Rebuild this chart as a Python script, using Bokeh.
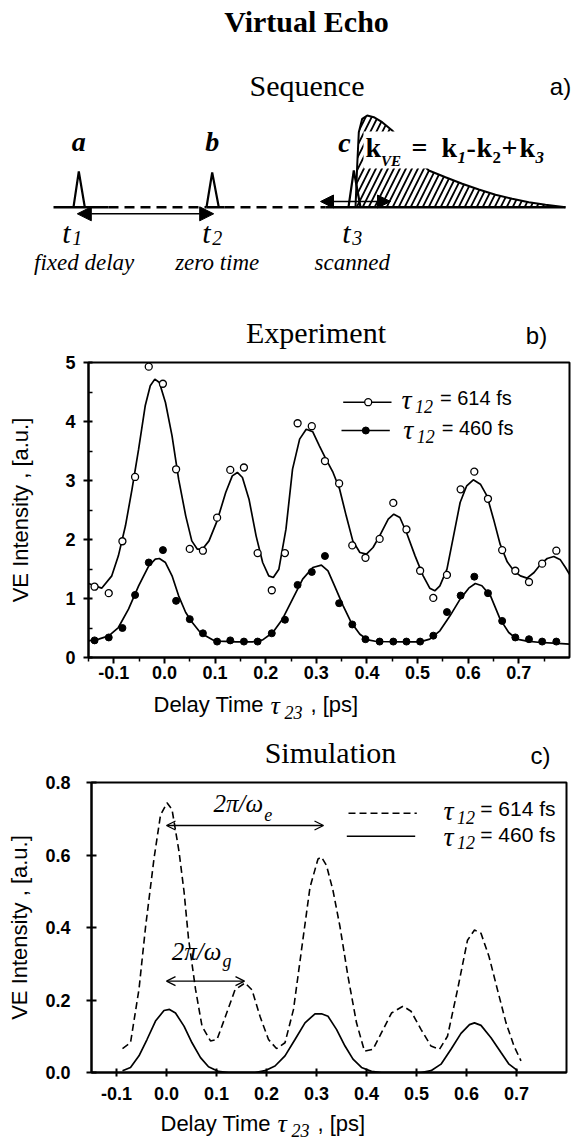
import math
from bokeh.plotting import figure
from bokeh.layouts import column
from bokeh.models import Range1d, FixedTicker, PrintfTickFormatter, Label, Arrow, NormalHead, OpenHead
from bokeh.embed import file_html
from bokeh.resources import INLINE

SERIF = "Liberation Serif"
SANS = "Liberation Sans"
W = 578

# ---------------- data: (b) Experiment ----------------
exp_delay = [-0.138, -0.110, -0.083, -0.058, -0.031, -0.003, 0.023, 0.050, 0.076, 0.104,
             0.130, 0.157, 0.184, 0.212, 0.238, 0.263, 0.291, 0.317, 0.345, 0.371,
             0.397, 0.425, 0.452, 0.478, 0.505, 0.531, 0.558, 0.585, 0.612, 0.639,
             0.667, 0.693, 0.720, 0.746, 0.774]
exp_614 = [1.20, 1.09, 1.97, 3.06, 4.93, 4.64, 3.19, 1.84, 1.81, 2.37,
           3.18, 3.22, 1.77, 1.14, 1.77, 3.97, 3.92, 3.33, 2.95, 1.90,
           1.69, 2.01, 2.62, 2.17, 1.47, 1.01, 1.40, 2.85, 3.15, 2.69,
           1.82, 1.47, 1.28, 1.59, 1.81]
exp_460 = [0.29, 0.34, 0.50, 1.06, 1.61, 1.82, 0.96, 0.65, 0.41, 0.27,
           0.29, 0.27, 0.27, 0.41, 0.64, 1.23, 1.45, 1.72, 0.92, 0.56,
           0.31, 0.27, 0.27, 0.27, 0.27, 0.37, 0.77, 1.05, 1.37, 1.09,
           0.62, 0.34, 0.31, 0.27, 0.27]

fit614_x = [-0.150, -0.124, -0.104, -0.091, -0.077, -0.064, -0.051, -0.038, -0.028, -0.019,
            -0.010, 0.002, 0.015, 0.028, 0.042, 0.054, 0.065, 0.075, 0.088, 0.104,
            0.121, 0.134, 0.144, 0.154, 0.167, 0.181, 0.194, 0.206, 0.215, 0.226,
            0.240, 0.253, 0.267, 0.280, 0.293, 0.306, 0.319, 0.333, 0.346, 0.359,
            0.372, 0.386, 0.399, 0.412, 0.425, 0.442, 0.453, 0.465, 0.478, 0.495,
            0.511, 0.524, 0.534, 0.544, 0.558, 0.571, 0.584, 0.597, 0.610, 0.624,
            0.637, 0.650, 0.663, 0.677, 0.690, 0.703, 0.716, 0.730, 0.743, 0.756,
            0.769, 0.782, 0.792, 0.800]
fit614_y = [1.254, 1.175, 1.384, 1.723, 2.232, 2.853, 3.531, 4.266, 4.605, 4.718,
            4.661, 4.322, 3.757, 3.023, 2.401, 1.977, 1.836, 1.836, 1.977, 2.316,
            2.797, 3.079, 3.136, 3.051, 2.684, 2.062, 1.610, 1.384, 1.356, 1.497,
            2.175, 3.192, 3.701, 3.870, 3.825, 3.588, 3.362, 3.136, 2.853, 2.401,
            1.977, 1.780, 1.751, 1.864, 2.062, 2.345, 2.429, 2.373, 2.119, 1.723,
            1.384, 1.175, 1.130, 1.215, 1.497, 2.062, 2.627, 2.910, 3.011, 2.938,
            2.740, 2.345, 1.921, 1.621, 1.469, 1.384, 1.345, 1.441, 1.582, 1.678,
            1.712, 1.655, 1.525, 1.412]

fit460_x = [-0.150, -0.130, -0.110, -0.091, -0.071, -0.051, -0.031, -0.018, -0.010, 0.002,
            0.015, 0.028, 0.042, 0.055, 0.068, 0.081, 0.095, 0.108, 0.141, 0.174,
            0.194, 0.214, 0.233, 0.253, 0.273, 0.293, 0.310, 0.323, 0.336, 0.353,
            0.369, 0.386, 0.402, 0.419, 0.472, 0.505, 0.524, 0.544, 0.564, 0.584,
            0.601, 0.614, 0.627, 0.644, 0.663, 0.680, 0.696, 0.716, 0.743, 0.769, 0.800]
fit460_y = [0.282, 0.311, 0.367, 0.508, 0.819, 1.215, 1.554, 1.667, 1.678, 1.610,
            1.384, 1.045, 0.763, 0.593, 0.452, 0.367, 0.299, 0.277, 0.266, 0.266,
            0.299, 0.424, 0.650, 0.989, 1.328, 1.525, 1.565, 1.469, 1.215, 0.876,
            0.593, 0.395, 0.299, 0.271, 0.266, 0.266, 0.311, 0.452, 0.706, 0.989,
            1.175, 1.254, 1.215, 1.045, 0.650, 0.424, 0.311, 0.277, 0.254, 0.243, 0.226]

# ---------------- data: (c) Simulation ----------------
sim614_x = [-0.088, -0.072, -0.055, -0.042, -0.025, -0.012, 0.001, 0.011, 0.025, 0.035,
            0.044, 0.058, 0.071, 0.088, 0.101, 0.118, 0.137, 0.157, 0.171, 0.187,
            0.204, 0.220, 0.237, 0.254, 0.270, 0.287, 0.303, 0.310, 0.320, 0.333,
            0.347, 0.363, 0.380, 0.396, 0.413, 0.430, 0.450, 0.473, 0.489, 0.509,
            0.529, 0.546, 0.562, 0.582, 0.602, 0.616, 0.629, 0.645, 0.662, 0.679,
            0.695, 0.709]
sim614_y = [0.066, 0.082, 0.230, 0.400, 0.590, 0.710, 0.744, 0.726, 0.610, 0.500,
            0.370, 0.230, 0.128, 0.087, 0.091, 0.155, 0.228, 0.247, 0.228, 0.155,
            0.091, 0.066, 0.082, 0.174, 0.338, 0.511, 0.589, 0.594, 0.571, 0.502,
            0.402, 0.265, 0.137, 0.059, 0.064, 0.110, 0.164, 0.183, 0.169, 0.119,
            0.073, 0.064, 0.100, 0.228, 0.365, 0.393, 0.384, 0.320, 0.228, 0.137,
            0.073, 0.032]
sim460_x = [-0.088, -0.072, -0.055, -0.039, -0.022, -0.005, 0.006, 0.018, 0.035, 0.051,
            0.068, 0.084, 0.104, 0.124, 0.177, 0.197, 0.217, 0.237, 0.257, 0.277,
            0.297, 0.310, 0.323, 0.340, 0.357, 0.373, 0.390, 0.410, 0.430, 0.509,
            0.529, 0.549, 0.569, 0.589, 0.606, 0.616, 0.629, 0.649, 0.669, 0.685, 0.702]
sim460_y = [0.005, 0.014, 0.046, 0.091, 0.142, 0.171, 0.174, 0.164, 0.128, 0.082,
            0.041, 0.016, 0.003, 0.000, 0.000, 0.005, 0.018, 0.046, 0.091, 0.137,
            0.162, 0.162, 0.155, 0.119, 0.073, 0.037, 0.014, 0.003, 0.000, 0.000,
            0.005, 0.023, 0.064, 0.108, 0.132, 0.137, 0.130, 0.096, 0.055, 0.023, 0.005]

# periods marked in (c)
period_e = [0.0, 0.314]
period_g = [0.0, 0.156]

x_ticks = [-0.1, 0.0, 0.1, 0.2, 0.3, 0.4, 0.5, 0.6, 0.7]
x_minor = [-0.15, -0.05, 0.05, 0.15, 0.25, 0.35, 0.45, 0.55, 0.65, 0.75]
b_y_ticks = [0, 1, 2, 3, 4, 5]
b_y_minor = [0.5, 1.5, 2.5, 3.5, 4.5]
c_y_ticks = [0.0, 0.2, 0.4, 0.6, 0.8]

Y_LABEL = "VE Intensity , [a.u.]"

# ---------------- (a) sequence schematic (picture pixel space) ----------------
seq_base = 206.7
pulse_peak_x = [78.3, 211.7, 353.3]
pulse_peak_y = [171.0, 172.0, 170.0]
pulse_left = [73.0, 206.0, 348.0]
pulse_right = [84.3, 218.3, 360.0]
solid_runs = [(53.0, 108.0), (206.0, 224.0), (325.0, 565.0)]
dashed_runs = [(108.0, 206.0), (224.0, 325.0)]
decay_x = [355.0, 356.7, 358.3, 361.7, 366.7, 373.3, 381.7, 391.7, 405.0, 418.0,
           428.3, 445.0, 461.7, 478.3, 495.0, 511.7, 528.3, 545.0, 565.0]
decay_y = [206.7, 165.0, 131.7, 118.3, 115.0, 116.7, 121.7, 130.0, 146.0, 160.0,
           170.0, 176.7, 183.3, 189.0, 194.3, 198.3, 201.7, 204.3, 206.7]


def ident(v):
    return v


def lab(p, x, y, s, size, font=SERIF, style="normal", align="left",
        fx=ident, fy=ident):
    """Place text whose alphabetic baseline sits at picture pixel (x, y)."""
    k = 0.34 if font == SANS else 0.3375
    ymid = y - k * size
    p.add_layout(Label(x=fx(x), y=fy(ymid), text=s, text_font=font,
                       text_font_size=f"{size}px", text_font_style=style,
                       text_align=align, text_baseline="middle",
                       text_color="black"))


def text_strip(top, bottom):
    """A figure without axes whose data space equals picture pixels."""
    p = figure(width=W, height=int(round(bottom - top)),
               x_range=Range1d(0, W), y_range=Range1d(bottom, top),
               output_backend="svg", toolbar_location=None, frame_align=False,
               title_location=None,
               x_axis_location=None, y_axis_location=None, min_border=0)
    p.grid.visible = False
    p.outline_line_color = None
    return p


# ======================= figure A (schematic + title of b) =======================
pA = text_strip(0, 350)

pA.patch(decay_x + [decay_x[-1], decay_x[0]], decay_y + [seq_base, seq_base],
         fill_color=None, line_color=None, hatch_pattern="/", hatch_scale=12,
         hatch_weight=1.8, hatch_color="black")
pA.line(decay_x, decay_y, line_color="black", line_width=2)

for (a, b) in solid_runs:
    pA.line([a, b], [seq_base, seq_base], line_color="black", line_width=2.5)
for (a, b) in dashed_runs:
    pA.line([a, b], [seq_base, seq_base], line_color="black", line_width=2.5,
            line_dash="10 6")
for xl, xp, yp, xr in zip(pulse_left, pulse_peak_x, pulse_peak_y, pulse_right):
    pA.line([xl, xp, xr], [seq_base, yp, seq_base], line_color="black", line_width=2.2)

pA.quad(left=[363], right=[556], top=[131], bottom=[168], fill_color="white",
        line_color=None)

pA.add_layout(Arrow(start=NormalHead(size=14, fill_color="black", line_color="black"),
                    end=NormalHead(size=14, fill_color="black", line_color="black"),
                    x_start=pulse_peak_x[0] - 1.5, y_start=213.3,
                    x_end=pulse_peak_x[1] + 1.5, y_end=213.3,
                    line_color="black", line_width=1.5))
pA.add_layout(Arrow(start=NormalHead(size=13, fill_color="black", line_color="black"),
                    end=NormalHead(size=13, fill_color="black", line_color="black"),
                    x_start=320, y_start=201, x_end=390, y_end=201,
                    line_color="black", line_width=1.5))

lab(pA, 306, 31, "Virtual Echo", 30, style="bold", align="center")
lab(pA, 306.5, 95, "Sequence", 30, align="center")
lab(pA, 560, 94, "a)", 24, font=SANS, align="center")
lab(pA, 78.3, 150, "a", 28, style="bold italic", align="center")
lab(pA, 211.7, 150, "b", 28, style="bold italic", align="center")
lab(pA, 344, 151.7, "c", 28, style="bold italic", align="center")
# k_VE = k1-k2+k3
lab(pA, 365, 156.7, "k", 28, style="bold")
lab(pA, 380.5, 166, "VE", 15, style="bold italic")
lab(pA, 411, 156.7, "=", 28, style="bold")
lab(pA, 441, 156.7, "k", 28, style="bold")
lab(pA, 457, 163, "1", 17, style="bold italic")
lab(pA, 466, 156.7, "-", 28, style="bold")
lab(pA, 476, 156.7, "k", 28, style="bold")
lab(pA, 492, 163, "2", 17, style="bold")
lab(pA, 501, 156.7, "+", 28, style="bold")
lab(pA, 519, 156.7, "k", 28, style="bold")
lab(pA, 535, 163, "3", 17, style="bold italic")
for tx, sub in zip([61.7, 201.7, 341.7], ["1", "2", "3"]):
    lab(pA, tx, 241.7, "t", 30, style="italic")
    lab(pA, tx + 10, 244, sub, 20, style="italic")
lab(pA, 83.7, 270, "fixed delay", 23, style="italic", align="center")
lab(pA, 216.7, 270, "zero time", 23, style="italic", align="center")
lab(pA, 351.7, 270, "scanned", 23, style="italic", align="center")

lab(pA, 315.5, 342.5, "Experiment", 30, align="center")
lab(pA, 536, 343.5, "b)", 24, font=SANS, align="center")


def style_axes(p, x_in, x_out, y_in, y_out, xstand, ystand, lstand):
    p.grid.visible = False
    p.outline_line_color = "black"
    p.outline_line_width = 2
    for ax in (p.xaxis[0], p.yaxis[0]):
        ax.axis_line_width = 2
        ax.major_tick_line_width = 2
        ax.minor_tick_line_width = 1.5
        ax.major_label_text_font = SANS
        ax.major_label_text_font_style = "bold"
        ax.major_label_text_font_size = "18px"
        ax.major_label_text_color = "black"
    p.xaxis.axis_label = None
    p.yaxis.axis_label = Y_LABEL
    p.yaxis.axis_label_text_font = SANS
    p.yaxis.axis_label_text_font_style = "normal"
    p.yaxis.axis_label_text_font_size = "22px"
    p.yaxis.axis_label_text_color = "black"
    p.yaxis.axis_label_standoff = lstand
    p.xaxis.major_tick_in = x_in
    p.xaxis.major_tick_out = x_out
    p.yaxis.major_tick_in = y_in
    p.yaxis.major_tick_out = y_out
    p.xaxis.major_label_standoff = xstand
    p.yaxis.major_label_standoff = ystand


# ======================= figure B (picture y 350..687, frame 362..657) =======================
pB = figure(width=W, height=337, x_range=Range1d(-0.15, 0.8), y_range=Range1d(0, 5),
            output_backend="svg", toolbar_location=None, frame_align=False,
            title_location=None,
            min_border_left=88, min_border_right=9, min_border_top=12, min_border_bottom=30)
style_axes(pB, 0, 6, 4, 5, 2, 8, 29)
pB.xaxis.ticker = FixedTicker(ticks=x_ticks, minor_ticks=x_minor)
pB.xaxis.formatter = PrintfTickFormatter(format="%.1f")
pB.xaxis.minor_tick_in = 0
pB.xaxis.minor_tick_out = 4
pB.yaxis.ticker = FixedTicker(ticks=b_y_ticks, minor_ticks=b_y_minor)
pB.yaxis.formatter = PrintfTickFormatter(format="%d")
pB.yaxis.minor_tick_in = 4
pB.yaxis.minor_tick_out = 0


def bx(px):
    return -0.15 + (px - 88) * 0.95 / 481


def by(py):
    return (657 - py) * 5 / 295


pB.line(fit614_x, fit614_y, line_color="black", line_width=1.7)
pB.line(fit460_x, fit460_y, line_color="black", line_width=1.7)
pB.scatter(exp_delay, exp_614, marker="circle", size=7, fill_color="white",
           line_color="black", line_width=1.3)
pB.scatter(exp_delay, exp_460, marker="circle", size=7, fill_color="black",
           line_color="black", line_width=1)

pB.line([bx(342.7), bx(391)], [by(401.7), by(401.7)], line_color="black", line_width=1.5)
pB.scatter([bx(367.7)], [by(401.7)], marker="circle", size=7, fill_color="white",
           line_color="black", line_width=1.3)
pB.line([bx(341), bx(389.3)], [by(430), by(430)], line_color="black", line_width=1.5)
pB.scatter([bx(365.3)], [by(430)], marker="circle", size=7, fill_color="black",
           line_color="black")
for (ty, sy, ey, lx, s) in [(408.3, 411.7, 404.3, 401, "= 614 fs"),
                            (438.3, 441.7, 434.3, 402.7, "= 460 fs")]:
    lab(pB, lx, ty, "τ", 28, style="italic", fx=bx, fy=by)
    lab(pB, lx + 13.5, sy, "12", 18, style="italic", fx=bx, fy=by)
    lab(pB, lx + 38.5, ey, s, 20, font=SANS, fx=bx, fy=by)

# ======================= strip between b and c (687..770) =======================
pM = text_strip(687, 770)
lab(pM, 153, 711.7, "Delay Time", 22, font=SANS)
lab(pM, 270, 713.5, "τ", 26, style="italic")
lab(pM, 284, 718, "23", 18, style="italic")
lab(pM, 310, 711.7, ", [ps]", 22, font=SANS)
lab(pM, 330, 762, "Simulation", 30, align="center")
lab(pM, 540, 763, "c)", 24, font=SANS, align="center")

# ======================= figure C (picture y 770..1108, frame 782..1072) =======================
pC = figure(width=W, height=338, x_range=Range1d(-0.15, 0.8), y_range=Range1d(0, 0.8),
            output_backend="svg", toolbar_location=None, frame_align=False,
            title_location=None,
            min_border_left=91, min_border_right=12, min_border_top=12, min_border_bottom=36)
style_axes(pC, 4, 4, 5, 5, 10, 16, 10)
pC.xaxis.ticker = FixedTicker(ticks=x_ticks, minor_ticks=[])
pC.xaxis.formatter = PrintfTickFormatter(format="%.1f")
pC.yaxis.ticker = FixedTicker(ticks=c_y_ticks, minor_ticks=[])
pC.yaxis.formatter = PrintfTickFormatter(format="%.1f")


def cx(px):
    return -0.15 + (px - 91) * 0.95 / 475


def cy(py):
    return (1072 - py) * 0.8 / 290


pC.line(sim614_x, sim614_y, line_color="black", line_width=1.6, line_dash="7 4")
pC.line(sim460_x, sim460_y, line_color="black", line_width=1.7)

pC.line([cx(348), cx(416.3)], [cy(812.7), cy(812.7)], line_color="black",
        line_width=1.6, line_dash="7 4")
pC.line([cx(346.3), cx(414.7)], [cy(835.7), cy(835.7)], line_color="black",
        line_width=1.6)
for (ty, sy, ey, s) in [(819, 823, 815, "= 614 fs"), (845, 848.5, 841.5, "= 460 fs")]:
    lab(pC, 443, ty, "τ", 28, style="italic", fx=cx, fy=cy)
    lab(pC, 456.5, sy, "12", 18, style="italic", fx=cx, fy=cy)
    lab(pC, 479.7, ey, s, 21, font=SANS, fx=cx, fy=cy)

pC.add_layout(Arrow(start=OpenHead(size=9, line_width=1.3), end=OpenHead(size=9, line_width=1.3),
                    x_start=period_e[0], y_start=cy(825), x_end=period_e[1], y_end=cy(825),
                    line_color="black", line_width=1.3))
pC.add_layout(Arrow(start=OpenHead(size=9, line_width=1.3), end=OpenHead(size=9, line_width=1.3),
                    x_start=period_g[0], y_start=cy(980.7), x_end=period_g[1], y_end=cy(980.7),
                    line_color="black", line_width=1.3))
lab(pC, 213, 811.7, "2π/ω", 25, style="italic", fx=cx, fy=cy)
lab(pC, 263.7, 820, "e", 18, style="italic", fx=cx, fy=cy)
lab(pC, 171.3, 959, "2π/ω", 25, style="italic", fx=cx, fy=cy)
lab(pC, 222, 966.7, "g", 18, style="italic", fx=cx, fy=cy)

# ======================= bottom strip (1108..1142) =======================
pD = text_strip(1108, 1142)
lab(pD, 160, 1130, "Delay Time", 22, font=SANS)
lab(pD, 277, 1132, "τ", 26, style="italic")
lab(pD, 291, 1136, "23", 18, style="italic")
lab(pD, 317, 1130, ", [ps]", 22, font=SANS)

layout = column(pA, pB, pM, pC, pD, spacing=0)
open("out.html", "w").write(file_html(layout, INLINE))
